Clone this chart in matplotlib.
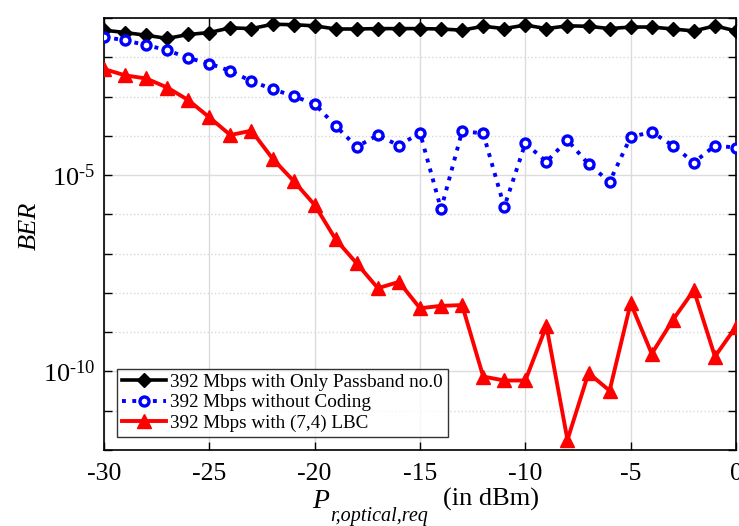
import numpy as np
import matplotlib
matplotlib.use("Agg")
import matplotlib.pyplot as plt
from matplotlib.ticker import FixedLocator, FuncFormatter

plt.rcParams['font.family'] = ['Liberation Serif', 'DejaVu Serif']
plt.rcParams['mathtext.fontset'] = 'custom'
plt.rcParams['mathtext.rm'] = 'Liberation Serif'
plt.rcParams['mathtext.it'] = 'Liberation Serif:italic'

# received optical power (dBm)
power = np.arange(-30, 1, 1)

# log10(BER)
log_ber_passband = [-1.31, -1.37, -1.44, -1.52, -1.42, -1.37, -1.25, -1.27, -1.16, -1.17,
                    -1.20, -1.28, -1.28, -1.27, -1.27, -1.27, -1.28, -1.31, -1.21, -1.27,
                    -1.18, -1.27, -1.20, -1.21, -1.27, -1.23, -1.23, -1.28, -1.33, -1.20, -1.33]
log_ber_uncoded = [-1.48, -1.57, -1.69, -1.82, -2.02, -2.16, -2.35, -2.61, -2.81, -2.99,
                   -3.19, -3.75, -4.28, -3.98, -4.25, -3.92, -5.87, -3.88, -3.94, -5.81,
                   -4.19, -4.66, -4.11, -4.72, -5.17, -4.03, -3.90, -4.25, -4.68, -4.25, -4.30]
log_ber_lbc = [-2.30, -2.46, -2.54, -2.77, -3.09, -3.53, -3.98, -3.87, -4.58, -5.15,
               -5.76, -6.64, -7.25, -7.88, -7.72, -8.39, -8.33, -8.31, -10.13, -10.23,
               -10.23, -8.84, -11.74, -10.04, -10.49, -8.26, -9.55, -8.69, -7.93, -9.62, -8.86]

labels = ['392 Mbps with Only Passband no.0',
          '392 Mbps without Coding',
          '392 Mbps with (7,4) LBC']

W, H = 739, 526
fig = plt.figure(figsize=(W / 100, H / 100), dpi=100)
ax = fig.add_axes([104 / W, 1 - 450 / H, 632 / W, 432 / H])

ax.semilogy(power, 10.0 ** np.array(log_ber_passband), color='black', linestyle='-',
            linewidth=2.6, marker='D', markersize=7, markerfacecolor='black',
            label=labels[0], zorder=3)
ax.semilogy(power, 10.0 ** np.array(log_ber_uncoded), color='blue', linestyle=':',
            linewidth=2.8, marker='o', markersize=6.5, markerfacecolor='white',
            markeredgewidth=2.4, label=labels[1], zorder=3)
ax.semilogy(power, 10.0 ** np.array(log_ber_lbc), color='red', linestyle='-',
            linewidth=2.8, marker='^', markersize=10, markerfacecolor='red',
            label=labels[2], zorder=3)

ax.set_xlim(-30, 0)
ax.set_ylim(1e-12, 1e-1)
ax.set_xticks([-30, -25, -20, -15, -10, -5, 0])
ax.xaxis.set_major_formatter(FuncFormatter(lambda v, p: '%d' % v))
ax.yaxis.set_major_locator(FixedLocator([1e-10, 1e-5]))
ax.yaxis.set_minor_locator(FixedLocator([10.0 ** k for k in range(-12, 0)]))
ax.yaxis.set_major_formatter(
    FuncFormatter(lambda v, p: r'$10^{\text{-}%d}$' % abs(round(np.log10(v)))))
ax.yaxis.set_minor_formatter(FuncFormatter(lambda v, p: ''))

ax.tick_params(which='both', direction='in', top=True, right=True,
               width=1.0, color='black', length=6)
ax.tick_params(axis='x', labelsize=18.5, pad=9)
ax.tick_params(axis='y', labelsize=19, pad=6)

ax.grid(which='major', color='#dcdcdc', linestyle='-', linewidth=1.0)
ax.grid(which='minor', axis='y', color='#d8d8d8', linestyle=':', linewidth=1.0)
ax.set_axisbelow(True)
for s in ax.spines.values():
    s.set_linewidth(1.2)

ax.set_ylabel('BER', fontsize=19, style='italic')
ax.yaxis.set_label_coords(-0.10, 0.52)

# x label built MATLAB-style: italic P, lowered italic subscript, upright units
fig.text(312 / W, 1 - 508 / H, 'P', fontsize=20, style='italic', ha='left', va='baseline')
fig.text(330 / W, 1 - 521 / H, 'r,optical,req', fontsize=14.5, style='italic',
         ha='left', va='baseline')
fig.text(443 / W, 1 - 506 / H, '(in dBm)', fontsize=19, ha='left', va='baseline')

leg = ax.legend(loc='lower left', fontsize=13.8, frameon=True, fancybox=False,
                edgecolor='black', borderpad=0.25, labelspacing=0.16,
                handlelength=2.3, handletextpad=0.2, borderaxespad=0.7)
leg.get_frame().set_linewidth(1.0)

fig.savefig('out.png', dpi=100)
